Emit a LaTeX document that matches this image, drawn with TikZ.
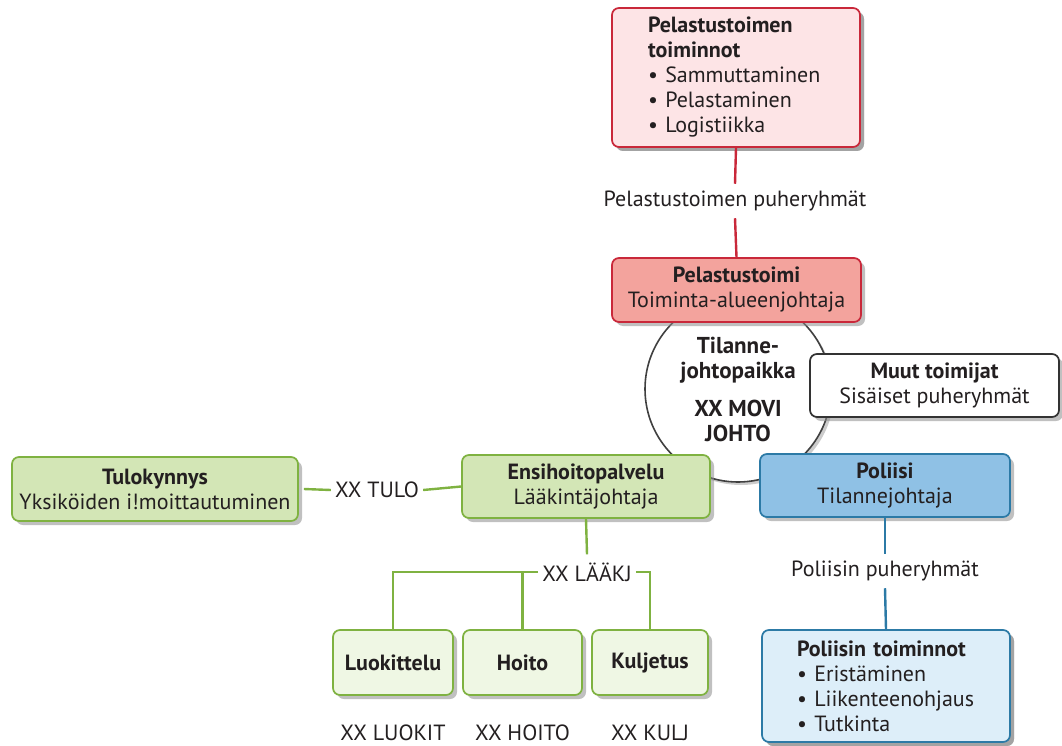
\documentclass[tikz,border=0pt]{standalone}
\usepackage{fontspec}
\setmainfont{PT Sans}
\usetikzlibrary{shadows}
\definecolor{redline}{HTML}{C9283A}
\definecolor{pinkfill}{HTML}{FDE4E6}
\definecolor{salmonfill}{HTML}{F3A39D}
\definecolor{greenline}{HTML}{7FB241}
\definecolor{greenfill}{HTML}{D3E6B6}
\definecolor{lgreenfill}{HTML}{EFF7E4}
\definecolor{blueline}{HTML}{2C7AA6}
\definecolor{bluefill}{HTML}{8FC1E5}
\definecolor{lbluefill}{HTML}{DDEEF9}
\definecolor{txt}{HTML}{231F20}
\begin{document}
\begin{tikzpicture}[x=1pt,y=-1pt,
  font=\fontsize{22}{25}\selectfont, text=txt,
  box/.style={draw, rounded corners=7pt, line width=1.7pt, align=center, inner sep=0pt,
    drop shadow={shadow xshift=4pt, shadow yshift=-4pt, fill=black!45, opacity=0.55}},
  listbox/.style={box, align=left, inner xsep=36pt, inner ysep=0pt},
  lbl/.style={inner xsep=4pt, inner ysep=7pt},
  redbox/.style={box, draw=redline},
  greenbox/.style={box, draw=greenline},
  bluebox/.style={box, draw=blueline},
  redc/.style={draw=redline, line width=2.4pt},
  greenc/.style={draw=greenline, line width=2.4pt},
  bluec/.style={draw=blueline, line width=2.4pt}
]
\useasboundingbox (0,0) rectangle (1062,746);

% central circle
\node[circle, draw=black!75, line width=1.6pt, fill=white, minimum size=186pt, inner sep=0pt, align=center,
  font=\fontsize{23}{25}\selectfont\bfseries,
  drop shadow={shadow xshift=3pt, shadow yshift=-3pt, fill=black!40, opacity=0.5}]
  (c) at (738,389) {Tilanne-\\johtopaikka\\[13pt]XX MOVI\\JOHTO};

% rescue
\node[redbox, listbox, fill=pinkfill, text width=176pt, minimum height=139pt] (pt) at (736,77.5)
  {\textbf{Pelastustoimen}\\\textbf{toiminnot}\\\textbullet\ Sammuttaminen\\\textbullet\ Pelastaminen\\\textbullet\ Logistiikka};
\node[lbl] (pl) at (735,201) {Pelastustoimen puheryhmät};
\node[redbox, fill=salmonfill, minimum width=249pt, minimum height=64pt] (p) at (736.5,290)
  {\textbf{Pelastustoimi}\\Toiminta-alueenjohtaja};
\draw[redc] (pt.south) -- (pl.north);
\draw[redc] (pl.south) -- (p.north);

% other actors
\node[box, draw=black!80, fill=white, minimum width=249pt, minimum height=63pt] (m) at (934.5,385.5)
  {\textbf{Muut toimijat}\\Sisäiset puheryhmät};

% police
\node[bluebox, fill=bluefill, minimum width=250pt, minimum height=63pt] (po) at (885,485.5)
  {\textbf{Poliisi}\\Tilannejohtaja};
\node[lbl] (pol) at (885,571) {Poliisin puheryhmät};
\node[bluebox, listbox, fill=lbluefill, text width=178pt, minimum height=112pt, inner xsep=35pt] (pot) at (886,686)
  {\textbf{Poliisin toiminnot}\\\textbullet\ Eristäminen\\\textbullet\ Liikenteenohjaus\\\textbullet\ Tutkinta};
\draw[bluec] (po.south) -- (pol.north);
\draw[bluec] (pol.south) -- (pot.north);

% ambulance
\node[greenbox, fill=greenfill, minimum width=248pt, minimum height=63pt] (e) at (586,486.5)
  {\textbf{Ensihoitopalvelu}\\Lääkintäjohtaja};
\node[greenbox, fill=greenfill, minimum width=286pt, minimum height=64pt] (t) at (155,489)
  {\textbf{Tulokynnys}\\Yksiköiden i!moittautuminen};
\node[lbl] (tl) at (377,490) {XX TULO};
\draw[greenc] ([xshift=5pt]t.east) -- (tl.west);
\draw[greenc] (tl.east) -- (e.west);

\node[lbl, inner ysep=8pt] (lj) at (587,572) {XX LÄÄKJ};
\draw[greenc] (e.south) -- (lj.north);

\node[greenbox, fill=lgreenfill, minimum width=120pt, minimum height=65pt] (l1) at (393,662.5) {\textbf{Luokittelu}};
\node[greenbox, fill=lgreenfill, minimum width=119pt, minimum height=65pt] (l2) at (522.5,662.5) {\textbf{Hoito}};
\node[greenbox, fill=lgreenfill, minimum width=116pt, minimum height=65pt] (l3) at (650,662.5) {\textbf{Kuljetus}};
\draw[greenc] (lj.west) -| (l1.north);
\draw[greenc] (l2.north) -- (l2.north |- lj.west);
\draw[greenc] (lj.east) -| (l3.north);

\node (n1) at (393,733) {XX LUOKIT};
\node (n2) at (522.5,733) {XX HOITO};
\node (n3) at (650,733) {XX KULJ};
\end{tikzpicture}
\end{document}
